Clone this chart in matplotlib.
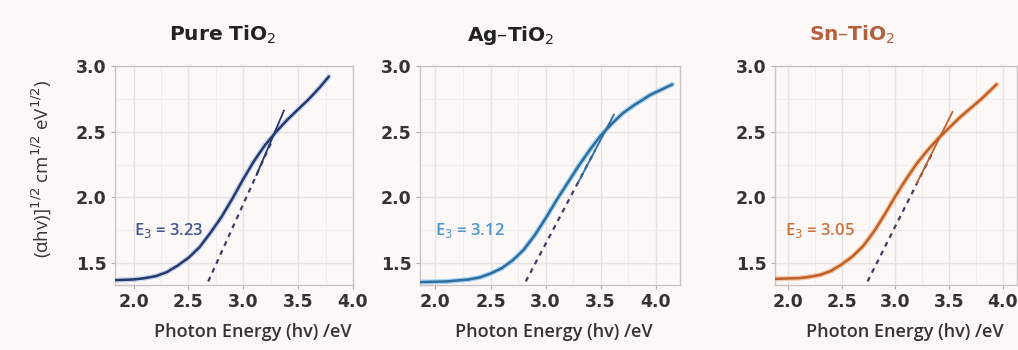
import numpy as np
import matplotlib.pyplot as plt
from matplotlib.ticker import MultipleLocator

plt.rcParams['font.family'] = ['Open Sans', 'DejaVu Sans']

# panel titles and band gap labels
titles = ['Pure TiO$_2$', 'Ag\u2013TiO$_2$', 'Sn\u2013TiO$_2$']
gap_labels = ['E$_3$ = 3.23', 'E$_3$ = 3.12', 'E$_3$ = 3.05']

# Tauc curves
pure_x = [1.83, 2.0, 2.1, 2.2, 2.3, 2.4, 2.5, 2.6, 2.7, 2.8, 2.9, 3.0, 3.1, 3.2, 3.3, 3.4, 3.5, 3.6, 3.7, 3.78]
pure_y = [1.37, 1.375, 1.385, 1.40, 1.43, 1.48, 1.54, 1.62, 1.73, 1.85, 1.99, 2.14, 2.28, 2.40, 2.50, 2.59, 2.67, 2.75, 2.84, 2.92]

ag_x = [1.86, 2.1, 2.3, 2.4, 2.5, 2.6, 2.7, 2.8, 2.9, 3.0, 3.1, 3.2, 3.3, 3.4, 3.5, 3.6, 3.7, 3.8, 3.95, 4.15]
ag_y = [1.355, 1.36, 1.375, 1.39, 1.42, 1.46, 1.52, 1.60, 1.71, 1.84, 1.98, 2.11, 2.24, 2.36, 2.47, 2.56, 2.64, 2.70, 2.78, 2.86]

sn_x = [1.88, 2.1, 2.2, 2.3, 2.4, 2.5, 2.6, 2.7, 2.8, 2.9, 3.0, 3.1, 3.2, 3.3, 3.4, 3.5, 3.6, 3.7, 3.8, 3.94]
sn_y = [1.38, 1.385, 1.395, 1.41, 1.44, 1.49, 1.55, 1.63, 1.74, 1.87, 2.01, 2.14, 2.26, 2.36, 2.45, 2.53, 2.61, 2.68, 2.75, 2.86]

# tangent lines: dashed part and solid part (x0, x1, y0, y1)
pure_dash = [2.68, 3.25, 1.36, 2.41]
pure_solid = [3.12, 3.37, 2.17, 2.66]
ag_dash = [2.82, 3.45, 1.36, 2.36]
ag_solid = [3.30, 3.62, 2.12, 2.63]
sn_dash = [2.74, 3.35, 1.36, 2.35]
sn_solid = [3.20, 3.53, 2.11, 2.65]

xlims = [(1.83, 3.98), (1.86, 4.22), (1.88, 4.13)]
title_x = [0.45, 0.35, 0.32]
xlabel_x = [0.58, 0.515, 0.535]

line_cols = ['#27386a', '#2f6d9c', '#c0602b']
halo_cols = ['#c3d4ee', '#a6d4f2', '#f6c8a3']
label_cols = ['#3e5a8e', '#4a98cc', '#c9733d']
title_cols = ['#222222', '#222222', '#b5603b']

curves = [(pure_x, pure_y), (ag_x, ag_y), (sn_x, sn_y)]
dashes = [pure_dash, ag_dash, sn_dash]
solids = [pure_solid, ag_solid, sn_solid]

bg = '#fcf8f8'
fig = plt.figure(figsize=(10.18, 3.5), dpi=100, facecolor=bg)
lefts = [115, 420, 775]
widths = [238, 260, 242]

for i in range(3):
    ax = fig.add_axes([lefts[i] / 1018, 65 / 350, widths[i] / 1018, 219 / 350])
    ax.set_facecolor(bg)
    cx, cy = curves[i]
    ax.plot(cx, cy, color=halo_cols[i], lw=3.6, solid_capstyle='round',
            solid_joinstyle='round', zorder=2)
    ax.plot(cx, cy, color=line_cols[i], lw=1.8, solid_capstyle='round',
            solid_joinstyle='round', zorder=3)
    d = dashes[i]
    ax.plot(d[:2], d[2:], color='#3b3f5e', lw=1.6, ls=(0, (2.2, 2.2)), zorder=4)
    s = solids[i]
    ax.plot(s[:2], s[2:], color=line_cols[i], lw=1.3, zorder=4)

    ax.text(2.0 if i < 2 else 1.97, 1.75, gap_labels[i], color=label_cols[i],
            fontsize=12, fontweight='semibold', va='center', ha='left')
    ax.text(title_x[i], 1.14, titles[i], transform=ax.transAxes, ha='center',
            va='center', fontsize=14.5, fontweight='bold', color=title_cols[i],
            family='DejaVu Sans')

    ax.set_xlim(xlims[i])
    ax.set_ylim(1.333, 3.0)
    ax.set_xticks([2.0, 2.5, 3.0, 3.5, 4.0])
    ax.set_yticks([1.5, 2.0, 2.5, 3.0])
    ax.xaxis.set_minor_locator(MultipleLocator(0.25))
    ax.yaxis.set_minor_locator(MultipleLocator(0.25))
    ax.grid(which='major', color='#e7e1e1', lw=1.0)
    ax.grid(which='minor', color='#f1ecec', lw=0.8)
    ax.set_axisbelow(True)
    for sp in ax.spines.values():
        sp.set_color('#c9c4c4')
        sp.set_linewidth(1.0)
    ax.tick_params(which='minor', length=0)
    ax.tick_params(which='major', length=3, color='#b0aaaa', labelsize=12.5,
                   labelcolor='#333333', pad=3)
    for lab in ax.get_xticklabels() + ax.get_yticklabels():
        lab.set_fontweight('bold')
        lab.set_family('DejaVu Sans')
    ax.set_xlabel('Photon Energy (hv) /eV', fontsize=13, fontweight='semibold',
                  color='#333333')
    ax.xaxis.set_label_coords(xlabel_x[i], -0.175)
    if i == 0:
        ax.set_ylabel('(\u03b1hv)]$^{1/2}$ cm$^{1/2}$ eV$^{1/2}$)', fontsize=13.5,
                      color='#333333')
        ax.yaxis.set_label_coords(-0.26, 0.53)

fig.savefig('out.png', dpi=100, facecolor=bg)
